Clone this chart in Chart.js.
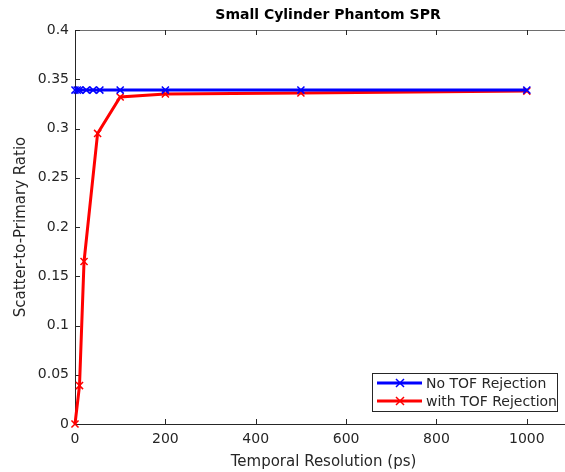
<!DOCTYPE html>
<html lang="en">
<head>
  <meta charset="UTF-8" />
  <title>Small Cylinder Phantom SPR</title>
  <script src="https://cdn.jsdelivr.net/npm/chart.js"></script>
  <style>
    * { margin: 0; padding: 0; box-sizing: border-box; }
    html, body { width: 565px; height: 472px; overflow: hidden; background: #fff; }
    #wrap { position: absolute; left: 0; top: 0; width: 580px; height: 472px; }
  </style>
</head>
<body>
  <div id="wrap"><canvas id="sprChart"></canvas></div>

  <script>
    // temporal resolution (ps) and scatter-to-primary ratio
    const noTofX = [0, 5, 10, 25, 40, 55, 100, 200, 500, 1000];
    const noTofY = [0.339, 0.339, 0.339, 0.339, 0.339, 0.339, 0.339, 0.339, 0.339, 0.339];
    const withTofX = [0, 10, 20, 50, 100, 200, 500, 1000];
    const withTofY = [0.0, 0.039, 0.165, 0.295, 0.332, 0.335, 0.336, 0.338];
    const xTicks = [0, 200, 400, 600, 800, 1000];
    const yTicks = [0, 0.05, 0.1, 0.15, 0.2, 0.25, 0.3, 0.35, 0.4];
    const seriesNames = ['No TOF Rejection', 'with TOF Rejection'];
    const seriesColors = ['#0000ff', '#ff0000'];

    const axisColor = '#262626';
    const fontFam = "'DejaVu Sans', sans-serif";

    function pts(xs, ys) {
      return xs.map((x, i) => ({ x: x, y: ys[i] }));
    }

    // MATLAB-style box, inward ticks, title and legend
    const matlabAxes = {
      id: 'matlabAxes',
      beforeDatasetsDraw(chart) {
        const ctx = chart.ctx;
        const a = chart.chartArea;
        const xs = chart.scales.x;
        const ys = chart.scales.y;
        ctx.save();
        ctx.lineWidth = 1;
        ctx.strokeStyle = axisColor;
        ctx.beginPath();
        ctx.moveTo(a.left + 0.5, a.top);
        ctx.lineTo(a.left + 0.5, a.bottom + 0.5);
        ctx.lineTo(a.right, a.bottom + 0.5);
        ctx.stroke();
        ctx.strokeStyle = '#6e6e6e';
        ctx.beginPath();
        ctx.moveTo(a.left, a.top + 0.5);
        ctx.lineTo(a.right, a.top + 0.5);
        ctx.stroke();
        ctx.strokeStyle = axisColor;
        ctx.beginPath();
        xTicks.forEach(v => {
          const px = Math.round(xs.getPixelForValue(v)) + 0.5;
          ctx.moveTo(px, a.bottom);
          ctx.lineTo(px, a.bottom - 5);
          ctx.moveTo(px, a.top);
          ctx.lineTo(px, a.top + 5);
        });
        yTicks.forEach(v => {
          const py = Math.round(ys.getPixelForValue(v)) + 0.5;
          ctx.moveTo(a.left, py);
          ctx.lineTo(a.left + 5, py);
        });
        ctx.stroke();

        // title
        ctx.fillStyle = '#000';
        ctx.font = 'bold 14px ' + fontFam;
        ctx.textAlign = 'center';
        ctx.textBaseline = 'middle';
        ctx.fillText('Small Cylinder Phantom SPR', 328, 15);
        ctx.restore();
      },
      afterDraw(chart) {
        const ctx = chart.ctx;
        ctx.save();
        // legend
        const lx = 372, ly = 373, lw = 185, lh = 38;
        ctx.fillStyle = '#fff';
        ctx.fillRect(lx, ly, lw, lh);
        ctx.strokeStyle = axisColor;
        ctx.lineWidth = 1;
        ctx.strokeRect(lx + 0.5, ly + 0.5, lw, lh);
        ctx.font = '14px ' + fontFam;
        ctx.textAlign = 'left';
        ctx.textBaseline = 'middle';
        seriesNames.forEach((name, i) => {
          const y = ly + 10 + i * 18;
          ctx.strokeStyle = seriesColors[i];
          ctx.lineWidth = 3;
          ctx.beginPath();
          ctx.moveTo(lx + 5, y);
          ctx.lineTo(lx + 50, y);
          ctx.stroke();
          ctx.lineWidth = 1.5;
          ctx.beginPath();
          ctx.moveTo(lx + 24, y - 4);
          ctx.lineTo(lx + 32, y + 4);
          ctx.moveTo(lx + 24, y + 4);
          ctx.lineTo(lx + 32, y - 4);
          ctx.stroke();
          ctx.fillStyle = '#262626';
          ctx.fillText(name, lx + 54, y + 1);
        });
        ctx.restore();
      }
    };

    const datasets = [
      { label: seriesNames[0], data: pts(noTofX, noTofY) },
      { label: seriesNames[1], data: pts(withTofX, withTofY) }
    ].map((d, i) => Object.assign(d, {
      borderColor: seriesColors[i],
      backgroundColor: seriesColors[i],
      borderWidth: 3,
      pointStyle: 'crossRot',
      pointRadius: 5,
      pointBorderWidth: 1.5,
      pointHoverRadius: 5,
      tension: 0,
      fill: false,
      clip: false
    }));

    new Chart(document.getElementById('sprChart'), {
      type: 'line',
      data: { datasets },
      options: {
        responsive: true,
        maintainAspectRatio: false,
        animation: false,
        layout: { padding: { top: 30, right: 8, left: 0, bottom: 0 } },
        plugins: {
          legend: { display: false },
          title: { display: false },
          tooltip: { enabled: false }
        },
        scales: {
          x: {
            type: 'linear',
            min: 0,
            max: 1100,
            afterFit: s => { s.height = 48; },
            afterBuildTicks: s => { s.ticks = xTicks.map(v => ({ value: v })); },
            grid: { display: false, drawTicks: false },
            border: { display: false },
            ticks: {
              color: axisColor,
              padding: 7,
              font: { family: fontFam, size: 14 },
              maxRotation: 0,
              callback: v => String(v)
            },
            title: {
              display: true,
              text: 'Temporal Resolution (ps)',
              color: axisColor,
              font: { family: fontFam, size: 15 },
              padding: { top: 0, bottom: 1 }
            }
          },
          y: {
            type: 'linear',
            min: 0,
            max: 0.4,
            afterFit: s => { s.width = 75; },
            afterBuildTicks: s => { s.ticks = yTicks.map(v => ({ value: v })); },
            grid: { display: false, drawTicks: false },
            border: { display: false },
            ticks: {
              color: axisColor,
              padding: 6,
              font: { family: fontFam, size: 14 },
              callback: v => String(+v.toFixed(2))
            },
            title: {
              display: true,
              text: 'Scatter-to-Primary Ratio',
              color: axisColor,
              font: { family: fontFam, size: 15 },
              padding: { top: 12, bottom: 0 }
            }
          }
        }
      },
      plugins: [matlabAxes]
    });
  </script>
</body>
</html>
